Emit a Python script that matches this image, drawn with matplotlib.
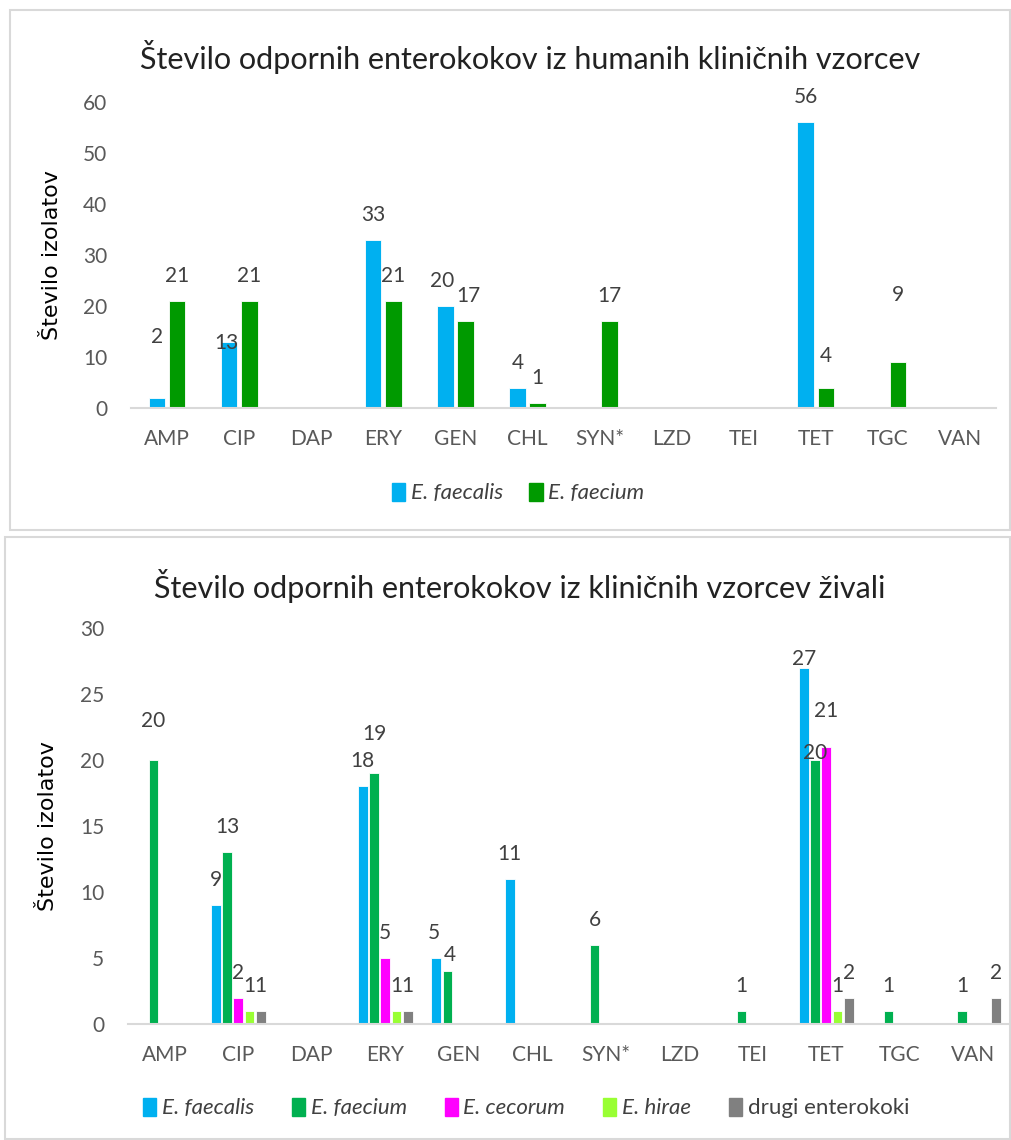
import matplotlib
matplotlib.use("Agg")
import matplotlib.pyplot as plt
from matplotlib.patches import Rectangle, Patch
import numpy as np

plt.rcParams['font.family'] = ['Lato', 'DejaVu Sans']

antibiotics = ['AMP', 'CIP', 'DAP', 'ERY', 'GEN', 'CHL', 'SYN*', 'LZD', 'TEI', 'TET', 'TGC', 'VAN']

# humani klinični vzorci
hum_faecalis = [2, 13, 0, 33, 20, 4, 0, 0, 0, 56, 0, 0]
hum_faecium = [21, 21, 0, 21, 17, 1, 17, 0, 0, 4, 9, 0]

# klinični vzorci živali
ziv_faecalis = [0, 9, 0, 18, 5, 11, 0, 0, 0, 27, 0, 0]
ziv_faecium = [20, 13, 0, 19, 4, 0, 6, 0, 1, 20, 1, 1]
ziv_cecorum = [0, 2, 0, 5, 0, 0, 0, 0, 0, 21, 0, 0]
ziv_hirae = [0, 1, 0, 1, 0, 0, 0, 0, 0, 1, 0, 0]
ziv_drugi = [0, 1, 0, 1, 0, 0, 0, 0, 0, 2, 0, 2]

C_BLUE = '#00B0F0'
TEXT = '#595959'
LAB = '#404040'
FS = 15

fig = plt.figure(figsize=(10.11, 11.4), dpi=100)
W, H = 1011.0, 1140.0

def box(l, t, r, b):
    fig.patches.append(Rectangle((l / W, 1 - b / H), (r - l) / W, (b - t) / H,
                                 transform=fig.transFigure, fill=False,
                                 edgecolor='#D9D9D9', linewidth=1.5))

box(10, 10, 1010, 530)
box(5, 537, 1010, 1139)


def style(ax, ymax, step):
    x = np.arange(len(antibiotics))
    ax.set_xlim(-0.5, len(antibiotics) - 0.5)
    ax.set_ylim(0, ymax)
    ax.set_yticks(np.arange(0, ymax + 1, step))
    ax.set_xticks(x)
    ax.set_xticklabels(antibiotics)
    for s in ['top', 'right', 'left']:
        ax.spines[s].set_visible(False)
    ax.spines['bottom'].set_color('#D9D9D9')
    ax.spines['bottom'].set_linewidth(1.5)
    ax.tick_params(axis='both', length=0, labelsize=FS, labelcolor=TEXT)
    ax.tick_params(axis='x', pad=15)
    ax.tick_params(axis='y', pad=17)
    ax.set_ylabel('Število izolatov', family='DejaVu Sans', fontsize=16, color='black')


def bars(ax, series, colors, slot, width, extra):
    n = len(series)
    x = np.arange(len(antibiotics))
    for i, (vals, col) in enumerate(zip(series, colors)):
        xs = x + (i - (n - 1) / 2) * slot
        ax.bar(xs, vals, width=width, color=col, edgecolor='white', linewidth=0.6)
        for j, v in enumerate(vals):
            if v == 0:
                continue
            dx, dy = extra.get((j, i), (0, 0))
            ax.annotate(str(v), (xs[j], v), xytext=(dx, 18 + dy), textcoords='offset points',
                        ha='center', va='center', fontsize=FS, color=LAB, clip_on=False)


# ---- top chart ----
ax1 = fig.add_axes([131 / W, 1 - 408 / H, 865 / W, 306 / H])
style(ax1, 60, 10)
ax1.yaxis.set_label_coords(-0.08, 0.5)
top_extra = {(0, 0): (0, 26), (1, 0): (-2, -19), (9, 1): (0, 5), (10, 1): (0, 30),
             (4, 0): (-2, 0), (4, 1): (2, 0)}
bars(ax1, [hum_faecalis, hum_faecium], [C_BLUE, '#009A00'], 0.28, 0.23, top_extra)
fig.text(530 / W, 1 - 57 / H, 'Število odpornih enterokokov iz humanih kliničnih vzorcev',
         ha='center', va='center', fontsize=22, color='#222222')
h1 = [Patch(color=C_BLUE, label='E. faecalis'), Patch(color='#009A00', label='E. faecium')]
leg1 = fig.legend(handles=h1, loc='center', bbox_to_anchor=(518 / W, 1 - 493 / H), ncol=2,
                  frameon=False, handlelength=0.6, handleheight=0.9,
                  handletextpad=0.25, columnspacing=1.2, prop={'style': 'italic', 'size': 16})
for t in leg1.get_texts():
    t.set_color(LAB)

# ---- bottom chart ----
ax2 = fig.add_axes([128 / W, 1 - 1024 / H, 882 / W, 396 / H])
style(ax2, 30, 5)
ax2.yaxis.set_label_coords(-0.079, 0.5)
bot_extra = {(0, 1): (0, 10), (3, 1): (0, 10), (9, 0): (0, -12), (9, 1): (0, -13),
             (9, 2): (0, 8), (4, 1): (2, -6), (4, 0): (-2, 0)}
bars(ax2, [ziv_faecalis, ziv_faecium, ziv_cecorum, ziv_hirae, ziv_drugi],
     [C_BLUE, '#00B050', '#FF00FF', '#99FF33', '#808080'], 0.153, 0.13, bot_extra)
fig.text(520 / W, 1 - 586 / H, 'Število odpornih enterokokov iz kliničnih vzorcev živali',
         ha='center', va='center', fontsize=22, color='#222222')
names = ['E. faecalis', 'E. faecium', 'E. cecorum', 'E. hirae', 'drugi enterokoki']
cols = [C_BLUE, '#00B050', '#FF00FF', '#99FF33', '#808080']
h2 = [Patch(color=c, label=n) for c, n in zip(cols, names)]
leg2 = fig.legend(handles=h2, loc='center', bbox_to_anchor=(526 / W, 1 - 1108 / H), ncol=5,
                  frameon=False, handlelength=0.6, handleheight=0.9,
                  handletextpad=0.25, columnspacing=1.7, prop={'style': 'italic', 'size': 16})
for t in leg2.get_texts():
    t.set_color(LAB)
leg2.get_texts()[-1].set_style('normal')

fig.savefig('out.png', dpi=100)
